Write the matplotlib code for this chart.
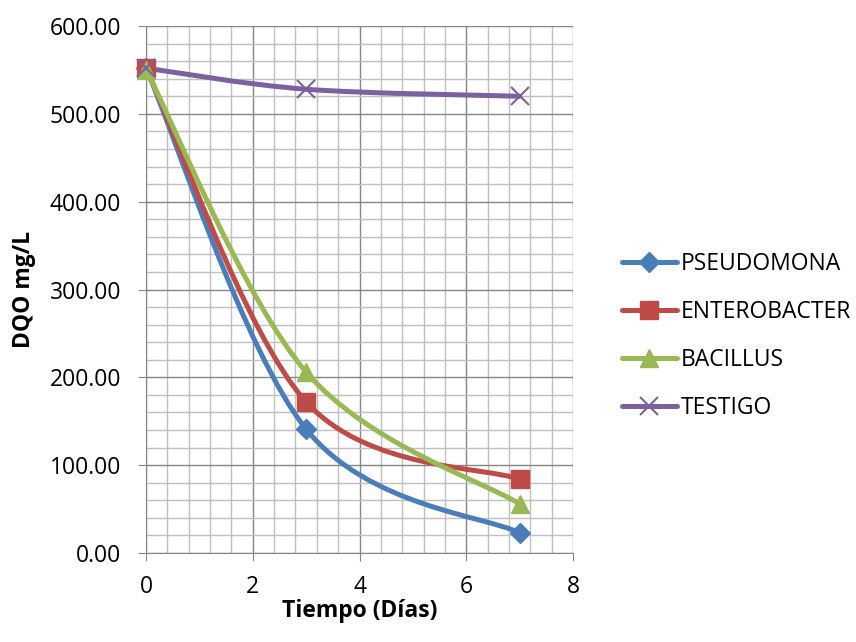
import numpy as np
import matplotlib
matplotlib.use('Agg')
import matplotlib.pyplot as plt
from matplotlib.path import Path
from matplotlib.patches import PathPatch
from matplotlib.lines import Line2D

plt.rcParams['font.family'] = ['Open Sans', 'DejaVu Sans']

dias = [0, 3, 7]
pseudomona = [552, 141, 23]
enterobacter = [552, 172, 84]
bacillus = [550, 206, 56]
testigo = [552, 528, 520]

series = ['PSEUDOMONA', 'ENTEROBACTER', 'BACILLUS', 'TESTIGO']
colores = ['#4A7EBB', '#BE4B48', '#98B954', '#7D60A0']
marcadores = ['D', 's', '^', 'x']
tamanos = [10, 13, 13, 13]


def curva_suave(x, y):
    # curva tipo Excel (Bezier con puntos de control 1/6)
    p = np.column_stack([x, y]).astype(float)
    n = len(p)
    verts = [p[0]]
    codes = [Path.MOVETO]
    for i in range(n - 1):
        p0 = p[i - 1] if i > 0 else p[i]
        p3 = p[i + 2] if i + 2 < n else p[i + 1]
        c1 = p[i] + (p[i + 1] - p0) / 6
        c2 = p[i + 1] - (p3 - p[i]) / 6
        verts += [c1, c2, p[i + 1]]
        codes += [Path.CURVE4] * 3
    return Path(verts, codes)


fs = 16.5
lw = 3.6
fig = plt.figure(figsize=(8.56, 6.42), dpi=100)
ax = fig.add_axes([0.1706, 0.1386, 0.4988, 0.8209])

ax.set_xlim(0, 8)
ax.set_ylim(0, 600)
ax.set_xticks(np.arange(0, 9, 2))
ax.set_xticks(np.arange(0, 8.01, 0.4), minor=True)
ax.set_yticks(np.arange(0, 601, 100))
ax.set_yticks(np.arange(0, 601, 20), minor=True)
ax.grid(which='major', color='#868686', linewidth=1.0)
ax.grid(which='minor', color='#c0c0c0', linewidth=1.0)
ax.set_axisbelow(True)
ax.yaxis.set_major_formatter(matplotlib.ticker.FormatStrFormatter('%.2f'))
ax.tick_params(which='minor', length=0)
ax.tick_params(which='major', length=6, color='#868686', labelsize=fs)
ax.tick_params(axis='y', pad=12)
ax.tick_params(axis='x', pad=10)
for s in ['top', 'right']:
    ax.spines[s].set_visible(False)
for s in ['left', 'bottom']:
    ax.spines[s].set_color('#868686')

handles = []
datos = [pseudomona, enterobacter, bacillus, testigo]
for nombre, y, c, m, ms in zip(series, datos, colores, marcadores, tamanos):
    ax.add_patch(PathPatch(curva_suave(dias, y), facecolor='none', edgecolor=c,
                           linewidth=lw, capstyle='round', zorder=3))
    if m == 'x':
        ax.plot(dias, y, linestyle='none', marker=m, markersize=ms, color=c,
                markeredgewidth=1.5, zorder=4, clip_on=False)
    else:
        ax.plot(dias, y, linestyle='none', marker=m, markersize=ms, color=c,
                markeredgecolor=c, zorder=4, clip_on=False)
    handles.append(Line2D([], [], color=c, linewidth=lw, marker=m, markersize=ms,
                          markeredgewidth=1.5 if m == 'x' else 1.0, solid_capstyle='round'))

ax.set_xlabel('Tiempo (Días)', fontsize=fs, fontweight='bold', labelpad=0)
ax.set_ylabel('DQO mg/L', fontsize=fs, fontweight='bold', labelpad=10)

fig.legend(handles, series, loc='center left', bbox_to_anchor=(0.7266, 0.477),
           frameon=False, fontsize=fs, handlelength=2.4, labelspacing=1.05,
           handletextpad=0.17, borderpad=0, borderaxespad=0)

fig.savefig('out.png', dpi=100)
